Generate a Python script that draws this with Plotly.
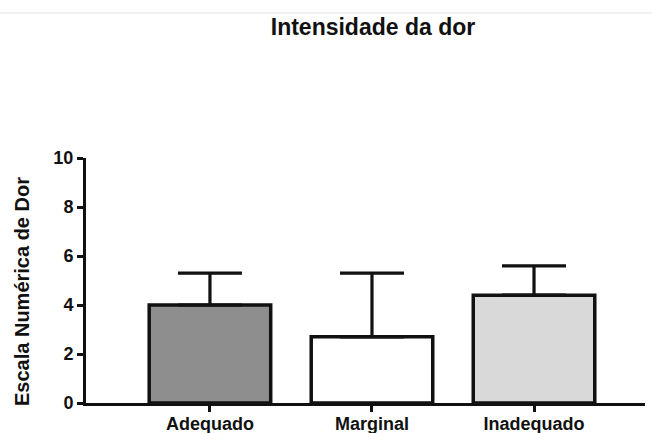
import plotly.graph_objects as go

categories = ["Adequado", "Marginal", "Inadequado"]
means = [4.0, 2.7, 4.4]
err_up = [1.3, 2.6, 1.2]
fills = ["#8e8e8e", "#ffffff", "#d9d9d9"]
y_ticks = [0, 2, 4, 6, 8, 10]

font_family = "Liberation Sans, Arial, sans-serif"

fig = go.Figure()
fig.add_trace(go.Bar(
    x=categories, y=means, width=0.75,
    marker=dict(color=fills, line=dict(color="#111111", width=3.5)),
    error_y=dict(type="data", symmetric=False, array=err_up,
                 arrayminus=[0, 0, 0], color="#111111", thickness=3.2, width=32),
))

fig.update_layout(
    width=652, height=433,
    paper_bgcolor="white", plot_bgcolor="white",
    margin=dict(l=86, r=7, t=158, b=30, autoexpand=False),
    showlegend=False,
    font=dict(family=font_family, color="#111111"),
    title=dict(text="Intensidade da dor", x=373 / 652, xref="container", xanchor="center",
               y=1 - 19 / 433, yref="container", yanchor="top", automargin=False,
               font=dict(size=23, weight="bold", family=font_family, color="#111111")),
    xaxis=dict(range=[-0.765, 2.685], showline=True, linecolor="#111111", linewidth=3,
               ticks="outside", ticklen=6, tickwidth=3, tickcolor="#111111", automargin=False,
               ticklabelstandoff=-4,
               tickfont=dict(size=18, weight="bold", family=font_family, color="#111111"),
               showgrid=False, zeroline=False),
    yaxis=dict(range=[0, 10], tickvals=y_ticks, showline=True, linecolor="#111111", linewidth=3,
               ticks="outside", ticklen=6, tickwidth=3, tickcolor="#111111", automargin=False,
               tickfont=dict(size=18, weight="bold", family=font_family, color="#111111"),
               showgrid=False, zeroline=False),
    annotations=[dict(text="Escala Numérica de Dor", textangle=-90,
                      xref="paper", yref="paper", x=(22 - 86) / 559, y=(403 - 292) / 245,
                      xanchor="center", yanchor="middle", showarrow=False,
                      font=dict(size=20, weight="bold", family=font_family, color="#111111"))],
    shapes=[dict(type="line", xref="paper", yref="paper", x0=-0.16, x1=1.02,
                 y0=(403 - 13) / 245, y1=(403 - 13) / 245,
                 line=dict(color="#f2f2f2", width=2))],
)

fig.write_html("out.html", config={"displayModeBar": False},
               post_script="document.body.style.margin='0';")
